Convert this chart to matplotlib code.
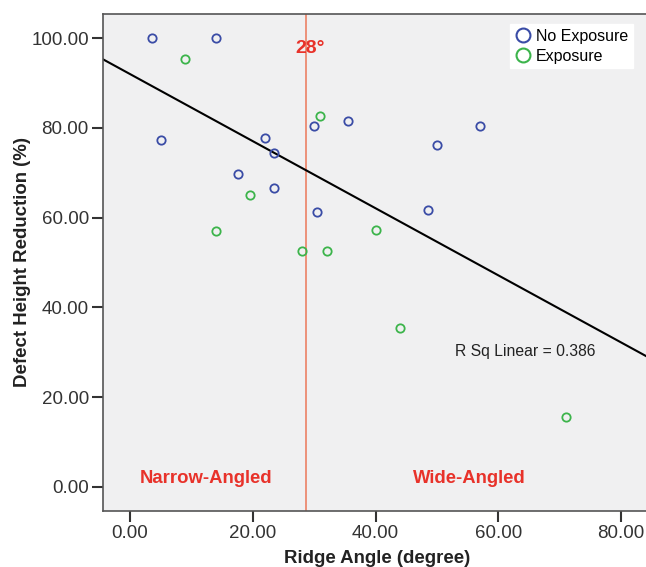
import numpy as np
import matplotlib
matplotlib.use("Agg")
import matplotlib.pyplot as plt
from matplotlib.lines import Line2D

plt.rcParams["font.family"] = ["Liberation Sans", "DejaVu Sans"]

# ----------------------------
# Data
# ----------------------------
no_exp_angle = [3.5, 14.0, 5.0, 22.0, 23.5, 17.5, 23.5, 30.0, 30.5, 35.5, 50.0, 57.0, 48.5]
no_exp_reduction = [100.0, 100.0, 77.4, 77.8, 74.4, 69.7, 66.7, 80.4, 61.3, 81.5, 76.2, 80.4, 61.6]

exp_angle = [9.0, 31.0, 19.5, 14.0, 28.0, 32.0, 40.0, 44.0, 71.0]
exp_reduction = [95.4, 82.6, 65.0, 57.1, 52.6, 52.5, 57.2, 35.3, 15.5]

# fit line as drawn in the original (R sq = 0.386)
fit_intercept = 92.0
fit_slope = -0.748

cutoff_angle = 28.7
x_ticks = [0, 20, 40, 60, 80]
y_ticks = [0, 20, 40, 60, 80, 100]

# ----------------------------
# Plot
# ----------------------------
fig = plt.figure(figsize=(6.46, 5.67), dpi=100)
ax = fig.add_axes([0.159, 0.0993, 0.851, 0.8760])
ax.set_facecolor("#f0f0f1")

ax.set_xlim(-4.46, 85.1)
ax.set_ylim(-5.35, 105.4)

blue = "#3a4ca6"
green = "#3cb44b"

ax.plot(no_exp_angle, no_exp_reduction, "o", mfc="none", mec=blue, ms=6, mew=1.3, zorder=3)
ax.plot(exp_angle, exp_reduction, "o", mfc="none", mec=green, ms=6, mew=1.3, zorder=3)

xs = np.array(ax.get_xlim())
ax.plot(xs, fit_intercept + fit_slope * xs, color="black", lw=1.5, zorder=2)

ax.axvline(cutoff_angle, color="#ec8a70", lw=1.3, zorder=1)

ax.text(29.4, 97.6, "28°", color="#e8322a", fontsize=14, fontweight="bold", ha="center", va="center")
ax.text(12.3, 1.9, "Narrow-Angled", color="#e8322a", fontsize=13.3, fontweight="bold", ha="center", va="center")
ax.text(55.3, 1.9, "Wide-Angled", color="#e8322a", fontsize=13.3, fontweight="bold", ha="center", va="center")
ax.text(64.3, 30.1, "R Sq Linear = 0.386", color="#222222", fontsize=11.3, ha="center", va="center")

handles = [
    Line2D([], [], marker="o", ls="none", mfc="none", mec=blue, ms=10, mew=1.5, label="No Exposure"),
    Line2D([], [], marker="o", ls="none", mfc="none", mec=green, ms=10, mew=1.5, label="Exposure"),
]
leg = ax.legend(handles=handles, loc="upper right", bbox_to_anchor=(0.9645, 0.98),
                fontsize=11.5, frameon=True, fancybox=False, handletextpad=0.3,
                borderpad=0.3, labelspacing=0.3, handlelength=1.0, borderaxespad=0)
leg.get_frame().set_facecolor("white")
leg.get_frame().set_edgecolor("white")
leg.get_frame().set_alpha(1)

ax.set_xticks(x_ticks)
ax.set_xticklabels([f"{v:.2f}" for v in x_ticks])
ax.set_yticks(y_ticks)
ax.set_yticklabels([f"{v:.2f}" for v in y_ticks])
ax.tick_params(axis="both", direction="out", length=8, width=1.5, color="#333333",
               labelsize=13.5, labelcolor="#333333", pad=2)

for side in ["left", "bottom", "top"]:
    ax.spines[side].set_color("#555555")
    ax.spines[side].set_linewidth(1.2)
ax.spines["right"].set_visible(False)

ax.set_xlabel("Ridge Angle (degree)", fontsize=13.4, fontweight="bold", color="#222222", labelpad=6)
ax.set_ylabel("Defect Height Reduction (%)", fontsize=13.4, fontweight="bold", color="#222222", labelpad=0)

fig.savefig("out.png", dpi=100)
